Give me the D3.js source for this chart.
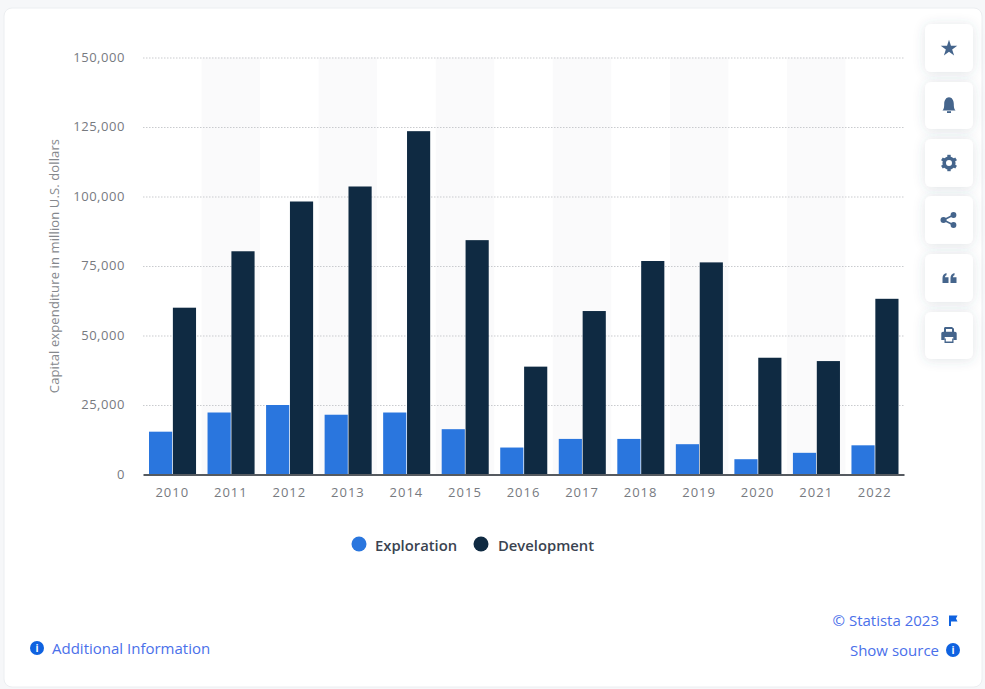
<!DOCTYPE html>
<html><head><meta charset="utf-8">
<script src="https://cdnjs.cloudflare.com/ajax/libs/d3/7.8.5/d3.min.js"></script>
<style>html,body{margin:0;padding:0;background:#f6f7f9;overflow:hidden}svg{display:block}text{font-family:"Open Sans",sans-serif}</style>
</head><body><div id="chart"></div>
<script>
const years=["2010","2011","2012","2013","2014","2015","2016","2017","2018","2019","2020","2021","2022"];
const exploration=[15400,22300,25000,21500,22300,16300,9700,12800,12800,10900,5500,7800,10500];
const development=[60000,80300,98200,103600,123500,84300,38800,58800,76800,76300,42000,40800,63200];
const seriesNames=["Exploration","Development"];
const seriesColors=["#2a76de","#0f2a42"];
const yTicks=[0,25000,50000,75000,100000,125000,150000];
const yTitle="Capital expenditure in million U.S. dollars";
const W=985,H=689;
const svg=d3.select("#chart").append("svg").attr("width",W).attr("height",H);
const defs=svg.append("defs");
const f=defs.append("filter").attr("id","sh").attr("x","-40%").attr("y","-40%").attr("width","180%").attr("height","180%");
f.append("feDropShadow").attr("dx",0).attr("dy",1).attr("stdDeviation",6).attr("flood-color","#44566c").attr("flood-opacity",.16);
svg.append("rect").attr("x",4).attr("y",8).attr("width",978).attr("height",679).attr("rx",8).attr("fill","#fff").attr("stroke","#eceef1");
const x=d3.scaleBand().domain(years).range([143,904]);
const y=d3.scaleLinear().domain([0,150000]).range([474.5,57.5]);
const inner=d3.scaleBand().domain(seriesNames).range([6,x.bandwidth()-5.5]).paddingInner(.03);
// alternating columns
svg.append("g").selectAll("rect").data(years.filter((d,i)=>i%2==1)).join("rect")
 .attr("x",d=>x(d)).attr("width",x.bandwidth()).attr("y",y(150000)).attr("height",y(0)-y(150000)).attr("fill","#fafafb");
// grid
const grid=svg.append("g").call(d3.axisLeft(y).tickValues(yTicks).tickSize(-(904-143)).tickFormat(""))
 .attr("transform","translate(143,0)");
grid.select(".domain").remove();
grid.selectAll("line").attr("stroke","#c9cbce").attr("stroke-dasharray","1.5 1.5").filter(d=>d===0).remove();
// bars
[exploration,development].forEach((vals,s)=>{
 svg.append("g").selectAll("rect").data(vals).join("rect")
  .attr("x",(d,i)=>x(years[i])+inner(seriesNames[s])).attr("width",inner.bandwidth())
  .attr("y",d=>y(d)).attr("height",d=>y(0)-y(d)).attr("fill",seriesColors[s]);
});
// y labels
const yAxis=svg.append("g").attr("transform","translate(143,0)").call(d3.axisLeft(y).tickValues(yTicks).tickSize(0).tickPadding(18).tickFormat(d3.format(",")));
yAxis.select(".domain").remove();
yAxis.selectAll("text").attr("fill","#777a7f").attr("font-size",13).attr("letter-spacing",.55).attr("dy","0.3em").style("font-family",'"Open Sans"');
// x axis
const xAxis=svg.append("g").attr("transform","translate(0,474.5)").call(d3.axisBottom(x).tickSize(0).tickPadding(13));
xAxis.select(".domain").attr("stroke","#555a60").attr("stroke-width",2);
xAxis.selectAll("text").attr("fill","#777a7f").attr("font-size",13).attr("letter-spacing",1).style("font-family",'"Open Sans"');
// y title
svg.append("text").attr("transform","translate(59,266) rotate(-90)").attr("text-anchor","middle")
 .attr("font-size",13).attr("letter-spacing",.12).attr("fill","#85888d").text(yTitle);
// legend
const legendX=[359,481],legendT=[375,498];
seriesNames.forEach((n,i)=>{
 svg.append("circle").attr("cx",legendX[i]).attr("cy",544).attr("r",7.5).attr("fill",seriesColors[i]);
 svg.append("text").attr("x",legendT[i]).attr("y",551).attr("font-size",14.8).attr("font-weight",600).attr("fill","#3a4350").text(n);
});
// footer
const blue="#0f62e0",link="#4a70ea";
function info(cx,cy){
 svg.append("circle").attr("cx",cx).attr("cy",cy).attr("r",7).attr("fill",blue);
 svg.append("text").attr("x",cx).attr("y",cy+4).attr("text-anchor","middle").attr("font-size",10).attr("font-weight",700).attr("fill","#fff").text("i");
}
info(37,648);
svg.append("text").attr("x",52).attr("y",654).attr("font-size",15).attr("fill",link).text("Additional Information");
svg.append("text").attr("x",939).attr("y",626).attr("text-anchor","end").attr("font-size",15).attr("fill",link).text("© Statista 2023");
svg.append("path").attr("d","M949 615.5h8.5l-1.5 3 1.5 3h-6.5v4.5h-2z").attr("fill",blue);
svg.append("text").attr("x",939).attr("y",656).attr("text-anchor","end").attr("font-size",15).attr("fill",link).text("Show source");
info(953,650);
// side buttons
const btnY=[24,82,139,196,254,312],btnH=[48,47,48,48,48,47];
btnY.forEach((b,i)=>svg.append("rect").attr("x",925).attr("y",b).attr("width",48).attr("height",btnH[i]).attr("rx",6).attr("fill","#fff").attr("filter","url(#sh)"));
const ic="#45658c";
const g=svg.append("g").attr("fill",ic);
// star
g.append("path").attr("d",d3.symbol().type(d3.symbolStar).size(85)()).attr("transform","translate(949,48.5)");
// bell
g.append("path").attr("d","M942.5 110.5c1.5-1.5 1.7-3.5 1.7-6.5 0-4 2-6.8 4.8-6.8s4.8 2.8 4.8 6.8c0 3 .2 5 1.7 6.5z");
g.append("rect").attr("x",947).attr("y",111.2).attr("width",4).attr("height",1.8);
// gear
const gear=g.append("g").attr("transform","translate(949,163)");
gear.append("circle").attr("r",4.8).attr("fill","none").attr("stroke",ic).attr("stroke-width",3.6);
d3.range(6).forEach(i=>gear.append("rect").attr("x",-1.7).attr("y",-8.2).attr("width",3.4).attr("height",3).attr("transform",`rotate(${i*60})`));
// share
const sh=[[943.5,220],[953.5,215],[953.5,225]];
g.append("path").attr("d",`M953.5 215L943.5 220L953.5 225`).attr("fill","none").attr("stroke",ic).attr("stroke-width",1.6);
sh.forEach((p,i)=>g.append("circle").attr("cx",p[0]).attr("cy",p[1]).attr("r",i?2.9:3));
// quote
g.append("path").attr("d","M942.5 283v-5c0-2.6 1.4-4.4 4-5v2.2c-1 .4-1.5 1.1-1.6 2.1H948.5V283z");
g.append("path").attr("d","M950.5 283v-5c0-2.6 1.4-4.4 4-5v2.2c-1 .4-1.5 1.1-1.6 2.1H956.5V283z");
// print
g.append("path").attr("d","M944 333.5v-5c0-.9.6-1.5 1.5-1.5h6.5l2 1.8v4.7h-2v-4.5h-6v4.5z");
g.append("path").attr("d","M941.3 333.5c0-1 .8-1.8 1.8-1.8h11.8c1 0 1.8.8 1.8 1.8v6.5h-3.4v-3h-8.6v3h-3.4z");
g.append("path").attr("d","M944.5 338.5h1.3v3h6.4v-3h1.3v4.5h-9z");
</script></body></html>
